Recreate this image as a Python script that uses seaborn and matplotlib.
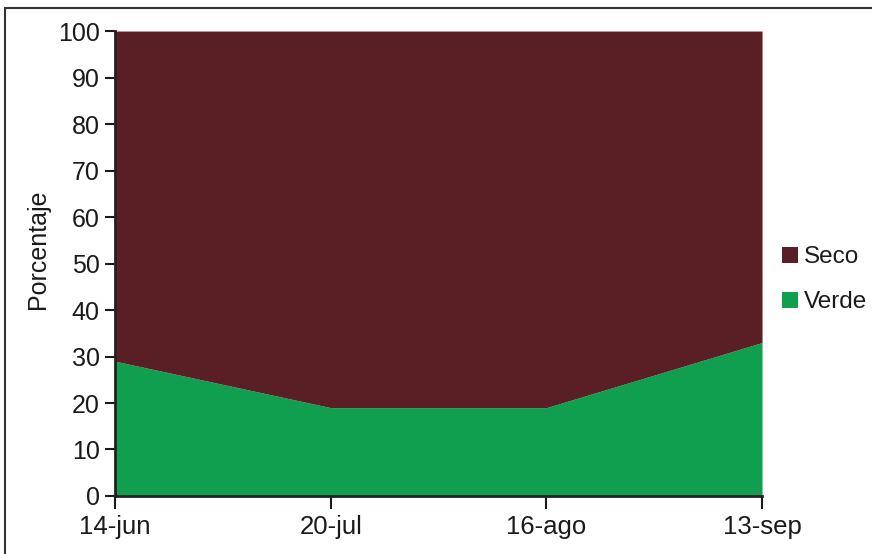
import numpy as np
import matplotlib
matplotlib.use("Agg")
import matplotlib.pyplot as plt
from matplotlib.lines import Line2D
import seaborn as sns

# ── Data ──────────────────────────────────────────────────────────────────────
fechas = ["14-jun", "20-jul", "16-ago", "13-sep"]
verde = [29, 19, 19, 33]
seco = [71, 81, 81, 67]

COL_SECO = "#5a1f25"
COL_VERDE = "#0f9f4f"

sns.set_theme(style="white")
plt.rcParams["font.family"] = ["Liberation Sans", "DejaVu Sans"]

fig = plt.figure(figsize=(8.72, 5.54), dpi=100)
ax = fig.add_axes([0.1319, 0.1047, 0.742, 0.8393])

x = np.arange(len(fechas))
ax.stackplot(x, verde, seco, colors=[COL_VERDE, COL_SECO],
             labels=["Verde", "Seco"], linewidth=0)

ax.set_xlim(0, len(fechas) - 1)
ax.set_ylim(0, 100)
ax.set_yticks(range(0, 101, 10))
ax.set_xticks(x)
ax.set_xticklabels(fechas)
ax.tick_params(axis="both", colors="#1a1a1a", direction="out",
               width=1.5, left=True, bottom=True)
ax.tick_params(axis="y", labelsize=18, length=7, pad=4)
ax.tick_params(axis="x", labelsize=18.5, length=9, pad=5)
ax.set_ylabel("Porcentaje", fontsize=18, color="#1a1a1a")
ax.yaxis.set_label_coords(-0.10, 0.53)

sns.despine(ax=ax)
for side in ("left", "bottom"):
    ax.spines[side].set_color("#222222")
    ax.spines[side].set_linewidth(2)

# legend: Seco on top, Verde below
handles, labels = ax.get_legend_handles_labels()
fig.legend(handles[::-1], labels[::-1], loc="center left",
           bbox_to_anchor=(0.897, 0.495), frameon=False, fontsize=17.5,
           handlelength=0.65, handleheight=0.65, handletextpad=0.25,
           labelspacing=0.95, labelcolor="#1a1a1a", borderpad=0,
           borderaxespad=0)

# thin frame around the figure (top and left edges)
fig.add_artist(Line2D([0.006, 1.0], [0.986, 0.986], transform=fig.transFigure,
                      color="#333333", linewidth=1.5))
fig.add_artist(Line2D([0.006, 0.006], [0.0, 0.986], transform=fig.transFigure,
                      color="#333333", linewidth=1.5))

fig.savefig("out.png", dpi=100)
